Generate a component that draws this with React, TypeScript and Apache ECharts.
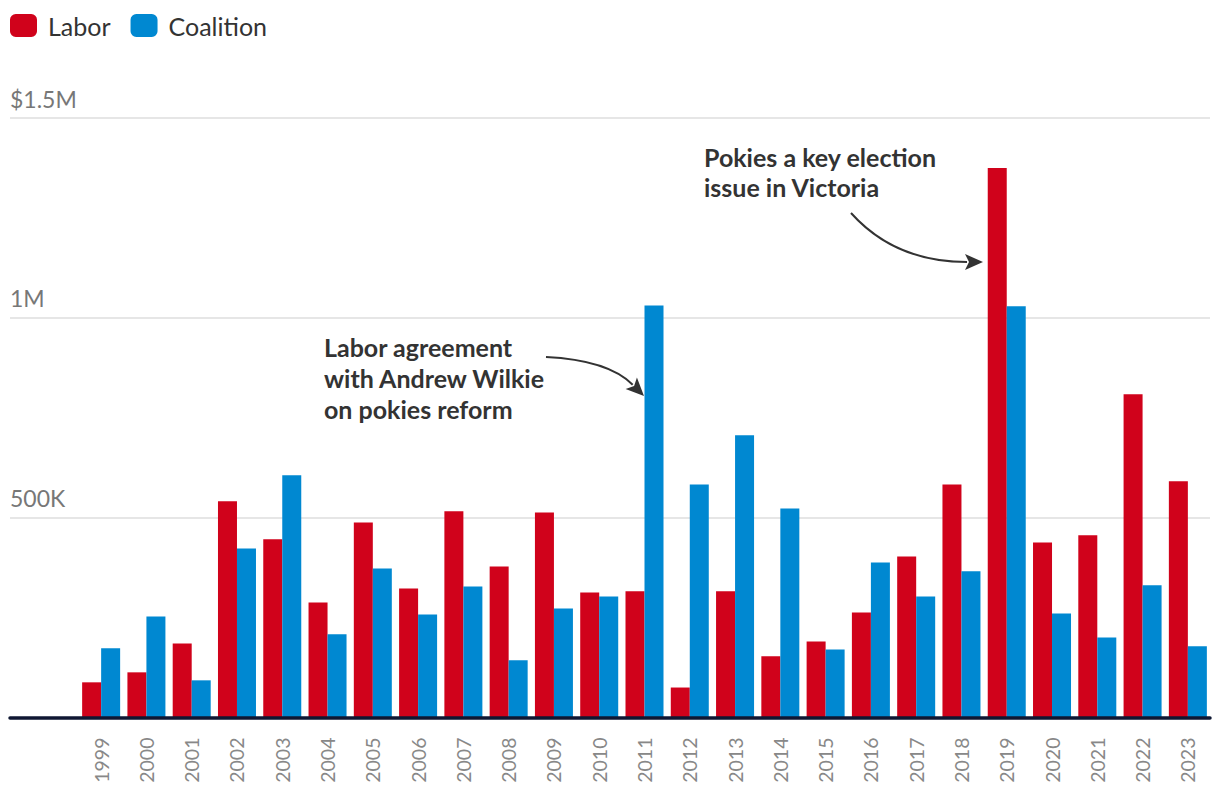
import React, { useEffect, useRef } from "react";
import * as echarts from "echarts";

const years = ["1999","2000","2001","2002","2003","2004","2005","2006","2007","2008","2009","2010","2011","2012","2013","2014","2015","2016","2017","2018","2019","2020","2021","2022","2023"];
const labor = [88000,113000,185000,541000,446000,288000,488000,323000,516000,378000,513000,313000,316000,75000,316000,153000,190000,263000,403000,583000,1375000,438000,456000,809000,591000];
const coalition = [173000,253000,93000,423000,606000,208000,373000,258000,328000,143000,273000,303000,1031000,583000,706000,523000,170000,388000,303000,366000,1029000,260000,200000,331000,178000];
const yTicks = [0, 500000, 1000000, 1500000];
const yTickLabels: Record<number, string> = { 0: "", 500000: "500K", 1000000: "1M", 1500000: "$1.5M" };

const FONT = "Lato, 'Noto Sans', sans-serif";

function arrow(x1: number, y1: number, cx: number, cy: number, tx: number, ty: number) {
  const dx = tx - cx, dy = ty - cy;
  const len = Math.hypot(dx, dy);
  const ux = dx / len, uy = dy / len;
  const headL = 18, headW = 8;
  const bx = tx - ux * headL, by = ty - uy * headL;
  const px = -uy, py = ux;
  return [
    {
      type: "bezierCurve",
      shape: { x1, y1, cpx1: cx, cpy1: cy, x2: bx + ux * 2, y2: by + uy * 2 },
      style: { stroke: "#333", lineWidth: 2, fill: null },
      z: 10,
    },
    {
      type: "polygon",
      shape: { points: [[tx, ty], [bx + px * headW, by + py * headW], [bx + ux * 4, by + uy * 4], [bx - px * headW, by - py * headW]] },
      style: { fill: "#333" },
      z: 10,
    },
  ];
}

export default function App() {
  const ref = useRef<HTMLDivElement>(null);
  useEffect(() => {
    if (!ref.current) return;
    const chart = echarts.init(ref.current, null, { renderer: "svg" });
    const top = 118, bottom = 92.5;
    const option: any = {
      animation: false,
      textStyle: { fontFamily: FONT },
      legend: {
        left: 5,
        top: 8,
        itemWidth: 27,
        itemHeight: 23,
        itemGap: 20,
        icon: "roundRect",
        textStyle: { fontSize: 25, color: "#333", fontFamily: FONT, padding: [0, 0, 0, 6] },
        data: ["Labor", "Coalition"],
      },
      grid: [
        { left: 10, right: 10, top, bottom },
        { left: 78.5, right: 9.5, top, bottom },
      ],
      xAxis: [
        {
          gridIndex: 0, type: "value", min: 0, max: 1, z: 5,
          axisLine: { show: true, lineStyle: { color: "#0f1733", width: 3.5 } },
          axisTick: { show: false }, axisLabel: { show: false }, splitLine: { show: false },
        },
        {
          gridIndex: 1, type: "category", data: years,
          axisLine: { show: false }, axisTick: { show: false },
          axisLabel: { rotate: 90, fontSize: 19.5, color: "#888", margin: 20, fontFamily: FONT, interval: 0 },
        },
      ],
      yAxis: [
        {
          gridIndex: 0, type: "value", min: yTicks[0], max: yTicks[yTicks.length - 1], interval: 500000,
          axisLine: { show: false }, axisTick: { show: false },
          splitLine: { show: true, lineStyle: { color: "#e6e6e6", width: 2 } },
          axisLabel: {
            inside: true, fontSize: 23, color: "#777", fontFamily: FONT,
            verticalAlign: "bottom", align: "left", margin: 0, padding: [0, 0, 8, 0],
            formatter: (v: number) => yTickLabels[v] ?? "",
          },
        },
        { gridIndex: 1, type: "value", min: yTicks[0], max: yTicks[yTicks.length - 1], interval: 500000, show: false },
      ],
      series: [
        { name: "Labor", type: "bar", xAxisIndex: 1, yAxisIndex: 1, data: labor, barWidth: 19, barGap: "0%", itemStyle: { color: "#d0021b" } },
        { name: "Coalition", type: "bar", xAxisIndex: 1, yAxisIndex: 1, data: coalition, barWidth: 19, barGap: "0%", itemStyle: { color: "#0088d1" } },
      ],
      graphic: [
        {
          type: "text", left: 324, top: 331, z: 10,
          style: { text: "Labor agreement\nwith Andrew Wilkie\non pokies reform", fontSize: 25, fontWeight: "bold", fill: "#333", lineHeight: 31, fontFamily: FONT },
        },
        {
          type: "text", left: 704, top: 142, z: 10,
          style: { text: "Pokies a key election\nissue in Victoria", fontSize: 25, fontWeight: "bold", fill: "#333", lineHeight: 30, fontFamily: FONT },
        },
        ...arrow(546, 357, 608, 360, 644, 396),
        ...arrow(851, 213, 895, 262, 983, 262),
      ],
    };
    chart.setOption(option);
    return () => chart.dispose();
  }, []);
  return <div ref={ref} style={{ position: "absolute", left: 0, top: 0, width: 1220, height: 810 }} />;
}
